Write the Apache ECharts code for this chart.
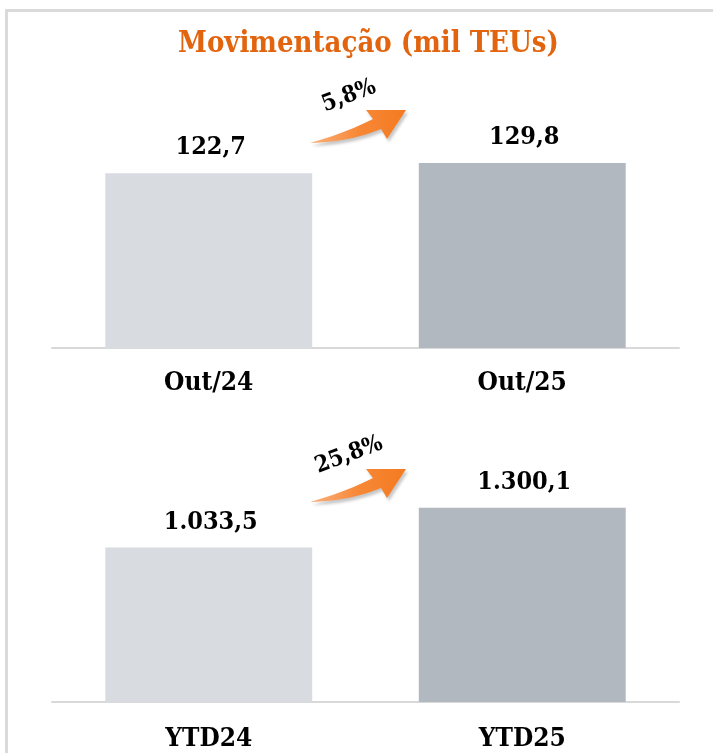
<!DOCTYPE html>
<html>
<head>
<meta charset="utf-8">
<script src="https://cdn.jsdelivr.net/npm/echarts@6/dist/echarts.min.js"></script>
<style>
  html, body { margin: 0; padding: 0; background: #fff; }
  #main { width: 713px; height: 753px; }
</style>
</head>
<body>
<div id="main"></div>
<script>
// dados
var monthCats = ['Out/24', 'Out/25'];
var monthVals = [122.7, 129.8];
var ytdCats = ['YTD24', 'YTD25'];
var ytdVals = [1033.5, 1300.1];
var barColors = ['#D8DBDF', '#B2B8C0'];

var serif = "'DejaVu Serif Condensed', 'DejaVu Serif', serif";

// 1.033,5 style
function fmtBR(v) {
    var parts = v.toFixed(1).split('.');
    var int = parts[0].replace(/\B(?=(\d{3})+(?!\d))/g, '.');
    return int + ',' + parts[1];
}
function growth(a) {
    return ((a[1] / a[0] - 1) * 100).toFixed(1).replace('.', ',') + '%';
}

// curva quadratica -> pontos
function quad(p0, c, p1, n) {
    var pts = [];
    for (var i = 0; i <= n; i++) {
        var t = i / n, u = 1 - t;
        pts.push([u * u * p0[0] + 2 * u * t * c[0] + t * t * p1[0],
                  u * u * p0[1] + 2 * u * t * c[1] + t * t * p1[1]]);
    }
    return pts;
}
var arrowPts = quad([0, 0], [35, -10], [63, -24], 12)
    .concat([[56, -33], [96, -33], [77, -4]])
    .concat(quad([71, -14], [40, -1], [0, 0], 12));

function arrow(x, y, pct) {
    return {
        type: 'group',
        x: x,
        y: y,
        children: [
            {
                type: 'polygon',
                shape: { points: arrowPts },
                style: {
                    fill: {
                        type: 'linear', x: 0, y: 0, x2: 1, y2: 0,
                        colorStops: [
                            { offset: 0, color: '#FAB27E' },
                            { offset: 0.5, color: '#F78837' },
                            { offset: 1, color: '#F47A20' }
                        ]
                    },
                    shadowBlur: 3,
                    shadowOffsetX: 2,
                    shadowOffsetY: 3,
                    shadowColor: 'rgba(0,0,0,0.22)'
                }
            },
            {
                type: 'text',
                x: 39,
                y: -47,
                rotation: 0.36,
                style: {
                    text: pct,
                    fill: '#000',
                    font: 'bold 23px ' + serif,
                    align: 'center',
                    verticalAlign: 'middle'
                }
            }
        ]
    };
}

var chart = echarts.init(document.getElementById('main'));

function xAx(idx, cats, margin) {
    return {
        type: 'category',
        gridIndex: idx,
        data: cats,
        axisTick: { show: false },
        axisLine: { lineStyle: { color: '#D9D9D9', width: 2 } },
        axisLabel: {
            margin: margin,
            fontFamily: serif,
            fontWeight: 'bold',
            fontSize: 26,
            color: '#000'
        }
    };
}
function yAx(idx, max) {
    return {
        type: 'value',
        gridIndex: idx,
        min: 0,
        max: max,
        show: false,
        splitLine: { show: false }
    };
}
function barSeries(idx, vals) {
    return {
        type: 'bar',
        xAxisIndex: idx,
        yAxisIndex: idx,
        barCategoryGap: '34%',
        data: vals.map(function (v, i) {
            return { value: v, itemStyle: { color: barColors[i] } };
        }),
        label: {
            show: true,
            position: 'top',
            distance: 13,
            offset: [2, 0],
            fontFamily: serif,
            fontWeight: 'bold',
            fontSize: 25,
            color: '#000',
            formatter: function (p) { return fmtBR(p.value); }
        }
    };
}

chart.setOption({
    animation: false,
    backgroundColor: '#fff',
    title: {
        text: 'Movimentação (mil TEUs)',
        left: 173,
        top: 25,
        textStyle: {
            color: '#E2640E',
            fontFamily: serif,
            fontWeight: 'bold',
            fontSize: 29
        }
    },
    grid: [
        { left: 52, right: 34, top: 120, height: 228 },
        { left: 52, right: 34, top: 463, height: 239 }
    ],
    xAxis: [xAx(0, monthCats, 22), xAx(1, ytdCats, 24)],
    yAxis: [yAx(0, 160), yAx(1, 1600)],
    series: [barSeries(0, monthVals), barSeries(1, ytdVals)],
    graphic: [
        // moldura
        {
            type: 'polyline',
            shape: { points: [[6.5, 753], [6.5, 10.5], [713, 10.5]] },
            style: { stroke: '#DADADA', lineWidth: 3, fill: null }
        },
        arrow(310, 143, growth(monthVals)),
        arrow(310, 502, growth(ytdVals))
    ]
});
</script>
</body>
</html>
